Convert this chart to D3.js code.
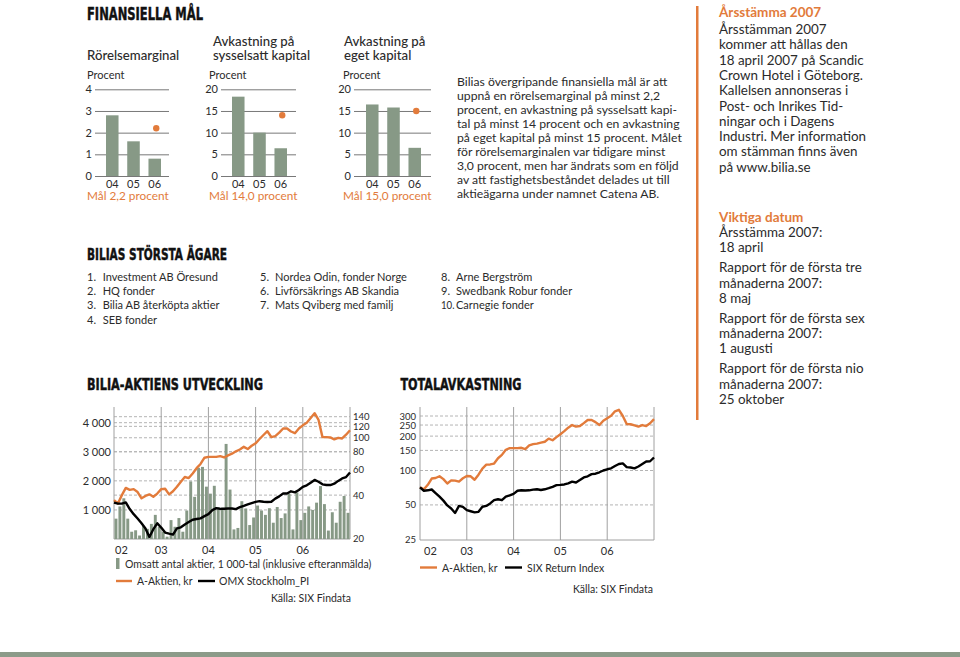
<!DOCTYPE html>
<html>
<head>
<meta charset="utf-8">
<script src="https://cdn.jsdelivr.net/npm/d3@7"></script>
<style>
  body { margin: 0; background: #fff; }
  svg text { font-family: Lato, "Open Sans", sans-serif; fill: #2b2b2b; }
  .head { font-family: "DejaVu Sans Condensed", "Liberation Sans Narrow", sans-serif; font-weight: bold; fill: #111; stroke: #111; stroke-width: 0.45; }
</style>
</head>
<body>
<svg id="chart" width="960" height="657"></svg>
<script>
// ---- data ----
const goalYears = ['04', '05', '06'];
const marginValues = [2.8, 1.6, 0.8];
const capitalValues = [18.3, 10.0, 6.4];
const equityValues = [16.5, 15.8, 6.5];
const goalTargets = [2.2, 14.0, 15.0];

const yearLabels = ['02', '03', '04', '05', '06'];

// monthly turnover, 1 000-tal, jan 2002 - dec 2006
const volume = [700, 1120, 1400, 700, 250, 300, 120, 450, 350, 520, 830, 420,
                250, 80, 650, 420, 720, 250, 980, 1980, 1450, 2450, 2480, 1800,
                1560, 1830, 1100, 1080, 3270, 1700, 330, 380, 1300, 1050, 480, 740,
                1150, 980, 830, 1060, 560, 1100, 720, 880, 1560, 330, 1600, 650,
                900, 1120, 1000, 1250, 1820, 1200, 290, 920, 560, 1280, 1480, 900];

// A-Aktien, kr (right log axis), month starts jan 2002 - jan 2007
const aktieKr = [36.9, 35.0, 40.0, 44.9, 43.5, 44.0, 42.0, 38.0, 39.5, 40.5, 39.0, 41.0,
                 44.0, 44.3, 40.5, 42.5, 45.7, 49.5, 53.4, 52.5, 56.5, 61.5, 65.8, 72.7,
                 73.7, 73.7, 73.7, 74.5, 73.0, 75.5, 77.5, 80.5, 82.9, 86.5, 83.5, 88.0,
                 91.5, 98.0, 104.5, 111.0, 101.0, 102.6, 108.5, 116.0, 116.0, 110.5, 107.6, 116.0,
                 122.0, 127.0, 137.0, 148.0, 133.0, 101.0, 101.0, 100.5, 97.5, 99.9, 98.9, 105.0,
                 112.7];

const omxPI = [35.5, 34.9, 34.9, 35.6, 32.0, 29.5, 27.5, 25.5, 23.5, 20.5, 23.2, 25.5,
               23.8, 22.0, 21.6, 21.3, 23.5, 23.9, 25.0, 26.0, 27.0, 27.3, 27.6, 28.6,
               29.5, 31.5, 32.5, 32.1, 32.2, 32.3, 32.3, 32.0, 33.0, 33.7, 34.5, 35.2,
               35.9, 36.3, 36.0, 35.8, 36.0, 37.8, 39.2, 41.0, 41.0, 42.5, 41.8, 43.4,
               45.6, 46.8, 48.8, 51.0, 49.5, 47.5, 47.0, 47.0, 48.0, 50.2, 52.2, 53.4,
               57.4];

// total return index
const totalA = [71.3, 68.5, 75, 85.1, 86, 89.1, 84, 77, 82, 81.5, 80, 85.5,
                89.5, 89, 83, 92, 104, 112.5, 113, 115, 128, 137, 152, 157,
                157, 157, 158, 154, 166, 170, 172, 175.5, 178.5, 190, 184, 196,
                208, 221, 237, 250, 242, 245, 260, 277, 277, 265, 250, 273,
                287, 301, 330, 340, 300, 255, 254, 248, 242, 250, 245, 259,
                282];

const sixReturn = [71.3, 66.5, 67.1, 68.2, 63.5, 59, 54.5, 49.5, 46.5, 42.5, 49, 48,
                   45, 44, 43, 43.5, 48.2, 49, 51.5, 55, 56, 55, 59, 60.5,
                   62.5, 66.5, 67.1, 66.8, 67.1, 68, 68.5, 67.5, 68.5, 70, 72, 74.5,
                   74.8, 75.5, 77.3, 80, 78.6, 82.5, 87, 89, 93, 93.7, 96.5, 100,
                   102.5, 104.5, 109.4, 114, 115.5, 107, 106.3, 104.5, 108.5, 114, 120, 120.5,
                   130];

const owners = ['Investment AB Öresund', 'HQ fonder', 'Bilia AB återköpta aktier', 'SEB fonder',
                'Nordea Odin, fonder Norge', 'Livförsäkrings AB Skandia', 'Mats Qviberg med familj',
                'Arne Bergström', 'Swedbank Robur fonder', 'Carnegie fonder'];

const goalParagraph = [
  'Bilias övergripande finansiella mål är att',
  'uppnå en rörelsemarginal på minst 2,2',
  'procent, en avkastning på sysselsatt kapi-',
  'tal på minst 14 procent och en avkastning',
  'på eget kapital på minst 15 procent. Målet',
  'för rörelsemarginalen var tidigare minst',
  '3,0 procent, men har ändrats som en följd',
  'av att fastighetsbeståndet delades ut till',
  'aktieägarna under namnet Catena AB.'
];

const agmLines = ['Årsstämman 2007', 'kommer att hållas den', '18 april 2007 på Scandic',
  'Crown Hotel i Göteborg.', 'Kallelsen annonseras i', 'Post- och Inrikes Tid-',
  'ningar och i Dagens', 'Industri. Mer information', 'om stämman finns även', 'på www.bilia.se'];

const dateGroups = [
  ['Årsstämma 2007:', '18 april'],
  ['Rapport för de första tre', 'månaderna 2007:', '8 maj'],
  ['Rapport för de första sex', 'månaderna 2007:', '1 augusti'],
  ['Rapport för de första nio', 'månaderna 2007:', '25 oktober']
];

const orange = '#e27b3b',
      green = '#879986',
      grid = '#b4b4b4';

const svg = d3.select('#chart');

function heading(text, x, y, len, size) {
  svg.append('text').attr('class', 'head')
     .attr('x', x).attr('y', y)
     .attr('font-size', size)
     .attr('textLength', len).attr('lengthAdjust', 'spacingAndGlyphs')
     .text(text);
}

// ---- FINANSIELLA MÅL ----
heading('FINANSIELLA MÅL', 87, 20, 116, 17.5);

const goalCharts = [
  {title: ['Rörelsemarginal'], values: marginValues, goal: goalTargets[0], label: 'Mål 2,2 procent',
   max: 4, ticks: [0, 1, 2, 3, 4], x0: 87, tx: 87, gridL: 95, gridR: 169, barL: 106, barR: 161},
  {title: ['Avkastning på', 'sysselsatt kapital'], values: capitalValues, goal: goalTargets[1], label: 'Mål 14,0 procent',
   max: 20, ticks: [0, 5, 10, 15, 20], x0: 209, tx: 213, gridL: 221, gridR: 296, barL: 232, barR: 287},
  {title: ['Avkastning på', 'eget kapital'], values: equityValues, goal: goalTargets[2], label: 'Mål 15,0 procent',
   max: 20, ticks: [0, 5, 10, 15, 20], x0: 343, tx: 344, gridL: 354, gridR: 431, barL: 366, barR: 421}
];

goalCharts.forEach(c => {
  const g = svg.append('g');

  c.title.forEach((t, i) => {
    g.append('text')
     .attr('x', c.tx).attr('y', 60 - (c.title.length - 1 - i) * 13.6)
     .attr('font-size', 13.2).attr('font-weight', 500).attr('fill', '#1e1e1e')
     .text(t);
  });

  g.append('text').attr('x', c.x0).attr('y', 79).attr('font-size', 11).text('Procent');

  const y = d3.scaleLinear().domain([0, c.max]).range([176, 89.3]);
  const x = d3.scaleBand().domain(goalYears).range([c.barL, c.barR]).paddingInner(0.41).paddingOuter(0);

  const axis = g.append('g')
     .attr('transform', `translate(${c.gridL},0)`)
     .call(d3.axisLeft(y).tickValues(c.ticks).tickSize(-(c.gridR - c.gridL)).tickPadding(3).tickFormat(d3.format('d')));
  axis.select('.domain').remove();
  axis.selectAll('line').attr('stroke', '#555').attr('stroke-width', 0.8);
  axis.selectAll('text').attr('font-size', 11).attr('font-family', 'Lato, sans-serif').attr('fill', '#2b2b2b');

  g.selectAll('rect.bar').data(c.values).enter().append('rect')
   .attr('class', 'bar')
   .attr('x', (d, i) => x(goalYears[i]))
   .attr('y', d => y(d))
   .attr('width', x.bandwidth())
   .attr('height', d => y(0) - y(d))
   .attr('fill', green);

  g.append('circle')
   .attr('cx', x('06') + x.bandwidth() / 2 + 1.5)
   .attr('cy', y(c.goal)).attr('r', 3.2).attr('fill', orange);

  g.selectAll('text.yr').data(goalYears).enter().append('text')
   .attr('class', 'yr')
   .attr('x', d => x(d) + x.bandwidth() / 2).attr('y', 187.5)
   .attr('text-anchor', 'middle').attr('font-size', 11)
   .text(d => d);

  g.append('text').attr('x', c.x0).attr('y', 200)
   .attr('font-size', 11.8).style('fill', orange).text(c.label);
});

// paragraph
svg.append('g').selectAll('text').data(goalParagraph).enter().append('text')
   .attr('x', 457).attr('y', (d, i) => 86 + i * 14)
   .attr('font-size', 12.2).text(d => d);

// ---- right column ----
svg.append('rect').attr('x', 696).attr('y', 6).attr('width', 2.5).attr('height', 414).attr('fill', orange);

svg.append('text').attr('x', 719).attr('y', 17).attr('font-size', 13.5).attr('font-weight', 'bold')
   .style('fill', orange).text('Årsstämma 2007');
svg.append('g').selectAll('text').data(agmLines).enter().append('text')
   .attr('x', 719).attr('y', (d, i) => 34 + i * 15.3)
   .attr('font-size', 13.4).text(d => d);

svg.append('text').attr('x', 719).attr('y', 222).attr('font-size', 13.5).attr('font-weight', 'bold')
   .style('fill', orange).text('Viktiga datum');
let dy = 237;
dateGroups.forEach(grp => {
  grp.forEach(line => {
    svg.append('text').attr('x', 719).attr('y', dy).attr('font-size', 13.4).text(line);
    dy += 15.3;
  });
  dy += 4.6;
});

// ---- BILIAS STÖRSTA ÄGARE ----
heading('BILIAS STÖRSTA ÄGARE', 87, 260, 140, 16.5);
const ownerCols = [{n: 87, t: 102.7, from: 0, to: 4}, {n: 260, t: 275, from: 4, to: 7}, {n: 441, t: 456, from: 7, to: 10}];
ownerCols.forEach(col => {
  owners.slice(col.from, col.to).forEach((name, i) => {
    const yy = 281 + i * 14.2;
    const num = svg.append('text').attr('x', col.n).attr('y', yy).attr('font-size', 11).text((col.from + i + 1) + '.');
    if (col.from + i + 1 >= 10) num.attr('textLength', 13.5).attr('lengthAdjust', 'spacingAndGlyphs');
    svg.append('text').attr('x', col.t).attr('y', yy).attr('font-size', 11).text(name);
  });
});

// ---- BILIA-AKTIENS UTVECKLING ----
heading('BILIA-AKTIENS UTVECKLING', 87, 390, 176, 16);
heading('TOTALAVKASTNING', 400.5, 390, 121, 16);

const spaceFormat = d3.formatLocale({decimal: ',', thousands: ' ', grouping: [3], currency: ['', '']}).format(',');

(function biliaChart() {
  const g = svg.append('g');
  const left = 114, right = 350, top = 407, bottom = 539;
  const x = d3.scaleLinear().domain([0, 60]).range([left, right]);
  const yVol = d3.scaleLinear().domain([0, 4000]).range([bottom, 422.7]);
  const yIdx = d3.scaleLog().domain([20, 140]).range([538.5, 416.7]);
  const volTicks = [1000, 2000, 3000, 4000];
  const idxTicks = [20, 40, 60, 80, 100, 120, 140];

  // dashed grid
  g.selectAll('line.gv').data(volTicks).enter().append('line')
   .attr('x1', left).attr('x2', right).attr('y1', d => yVol(d)).attr('y2', d => yVol(d))
   .attr('stroke', grid).attr('stroke-dasharray', '3,2');
  g.selectAll('line.gi').data(idxTicks.slice(1)).enter().append('line')
   .attr('x1', left).attr('x2', right).attr('y1', d => yIdx(d)).attr('y2', d => yIdx(d))
   .attr('stroke', grid).attr('stroke-dasharray', '3,2');

  // year lines
  g.selectAll('line.yr').data(d3.range(0, 61, 12)).enter().append('line')
   .attr('x1', d => x(d)).attr('x2', d => x(d)).attr('y1', top).attr('y2', bottom)
   .attr('stroke', '#a0a0a0');
  g.append('line').attr('x1', left).attr('x2', right).attr('y1', bottom).attr('y2', bottom).attr('stroke', '#a0a0a0');

  // bars
  g.selectAll('rect.vol').data(volume).enter().append('rect')
   .attr('x', (d, i) => x(i) + 0.5)
   .attr('width', (x(1) - x(0)) - 1)
   .attr('y', d => yVol(d))
   .attr('height', d => bottom - yVol(d))
   .attr('fill', green);

  const line = d3.line().x((d, i) => x(i)).y(d => yIdx(d));
  g.append('path').datum(aktieKr).attr('d', line).attr('fill', 'none')
   .attr('stroke', orange).attr('stroke-width', 2.4).attr('stroke-linejoin', 'round');
  g.append('path').datum(omxPI).attr('d', line).attr('fill', 'none')
   .attr('stroke', '#000').attr('stroke-width', 2.4).attr('stroke-linejoin', 'round');

  const la = g.append('g').attr('transform', `translate(${left},0)`)
    .call(d3.axisLeft(yVol).tickValues(volTicks).tickSize(0).tickPadding(3).tickFormat(spaceFormat));
  la.select('.domain').remove();
  la.selectAll('text').attr('font-size', 11).attr('font-family', 'Lato, sans-serif').attr('fill', '#2b2b2b');

  const ra = g.append('g').attr('transform', `translate(${right},0)`)
    .call(d3.axisRight(yIdx).tickValues(idxTicks).tickSize(0).tickPadding(3).tickFormat(d3.format('d')));
  ra.select('.domain').remove();
  ra.selectAll('text').attr('font-size', 9.5).attr('font-family', 'Lato, sans-serif').attr('fill', '#2b2b2b');

  g.selectAll('text.yl').data(yearLabels).enter().append('text')
   .attr('x', (d, i) => i === 0 ? x(0) + 1 : x(i * 12))
   .attr('text-anchor', (d, i) => i === 0 ? 'start' : 'middle')
   .attr('y', 554).attr('font-size', 11).text(d => d);

  // legend
  g.append('rect').attr('x', 116).attr('y', 558).attr('width', 3.5).attr('height', 11).attr('fill', green);
  g.append('text').attr('x', 125).attr('y', 568).attr('font-size', 10.5).text('Omsatt antal aktier, 1 000-tal (inklusive efteranmälda)');
  g.append('line').attr('x1', 116).attr('x2', 132).attr('y1', 581).attr('y2', 581).attr('stroke', orange).attr('stroke-width', 2.4);
  g.append('text').attr('x', 137).attr('y', 585).attr('font-size', 10.5).text('A-Aktien, kr');
  g.append('line').attr('x1', 198).attr('x2', 215).attr('y1', 581).attr('y2', 581).attr('stroke', '#000').attr('stroke-width', 2.4);
  g.append('text').attr('x', 219).attr('y', 585).attr('font-size', 10.5).text('OMX Stockholm_PI');
  g.append('text').attr('x', 351).attr('y', 602).attr('text-anchor', 'end').attr('font-size', 10.5).text('Källa: SIX Findata');
})();

// ---- TOTALAVKASTNING ----
(function totalChart() {
  const g = svg.append('g');
  const left = 420, right = 654, top = 407, bottom = 540;
  const x = d3.scaleLinear().domain([0, 60]).range([left, right]);
  const y = d3.scaleLog().domain([25, 300]).range([539.3, 416]);
  const ticks = [25, 50, 100, 150, 200, 250, 300];

  g.selectAll('line.g').data(ticks.slice(1)).enter().append('line')
   .attr('x1', left).attr('x2', right).attr('y1', d => y(d)).attr('y2', d => y(d))
   .attr('stroke', grid).attr('stroke-dasharray', '3,2');
  g.selectAll('line.yr').data(d3.range(0, 61, 12)).enter().append('line')
   .attr('x1', d => x(d)).attr('x2', d => x(d)).attr('y1', top).attr('y2', bottom)
   .attr('stroke', '#a0a0a0');
  g.append('line').attr('x1', left).attr('x2', right).attr('y1', bottom).attr('y2', bottom).attr('stroke', '#a0a0a0');

  const line = d3.line().x((d, i) => x(i)).y(d => y(d));
  g.append('path').datum(totalA).attr('d', line).attr('fill', 'none')
   .attr('stroke', orange).attr('stroke-width', 2.4).attr('stroke-linejoin', 'round');
  g.append('path').datum(sixReturn).attr('d', line).attr('fill', 'none')
   .attr('stroke', '#000').attr('stroke-width', 2.4).attr('stroke-linejoin', 'round');

  const la = g.append('g').attr('transform', `translate(${left},0)`)
    .call(d3.axisLeft(y).tickValues(ticks).tickSize(0).tickPadding(4).tickFormat(d3.format('d')));
  la.select('.domain').remove();
  la.selectAll('text').attr('font-size', 9.5).attr('font-family', 'Lato, sans-serif').attr('fill', '#2b2b2b');

  g.selectAll('text.yl').data(yearLabels).enter().append('text')
   .attr('x', (d, i) => i === 0 ? x(0) + 4 : x(i * 12))
   .attr('text-anchor', (d, i) => i === 0 ? 'start' : 'middle')
   .attr('y', 555).attr('font-size', 11).text(d => d);

  g.append('line').attr('x1', 420).attr('x2', 437).attr('y1', 567.5).attr('y2', 567.5).attr('stroke', orange).attr('stroke-width', 2.4);
  g.append('text').attr('x', 442).attr('y', 571.5).attr('font-size', 10.5).text('A-Aktien, kr');
  g.append('line').attr('x1', 505).attr('x2', 522).attr('y1', 567.5).attr('y2', 567.5).attr('stroke', '#000').attr('stroke-width', 2.4);
  g.append('text').attr('x', 527).attr('y', 571.5).attr('font-size', 10.5).text('SIX Return Index');
  g.append('text').attr('x', 653).attr('y', 593).attr('text-anchor', 'end').attr('font-size', 10.5).text('Källa: SIX Findata');
})();

// bottom band
svg.append('rect').attr('x', 0).attr('y', 652).attr('width', 960).attr('height', 5).attr('fill', '#8c9b89');
</script>
</body>
</html>
